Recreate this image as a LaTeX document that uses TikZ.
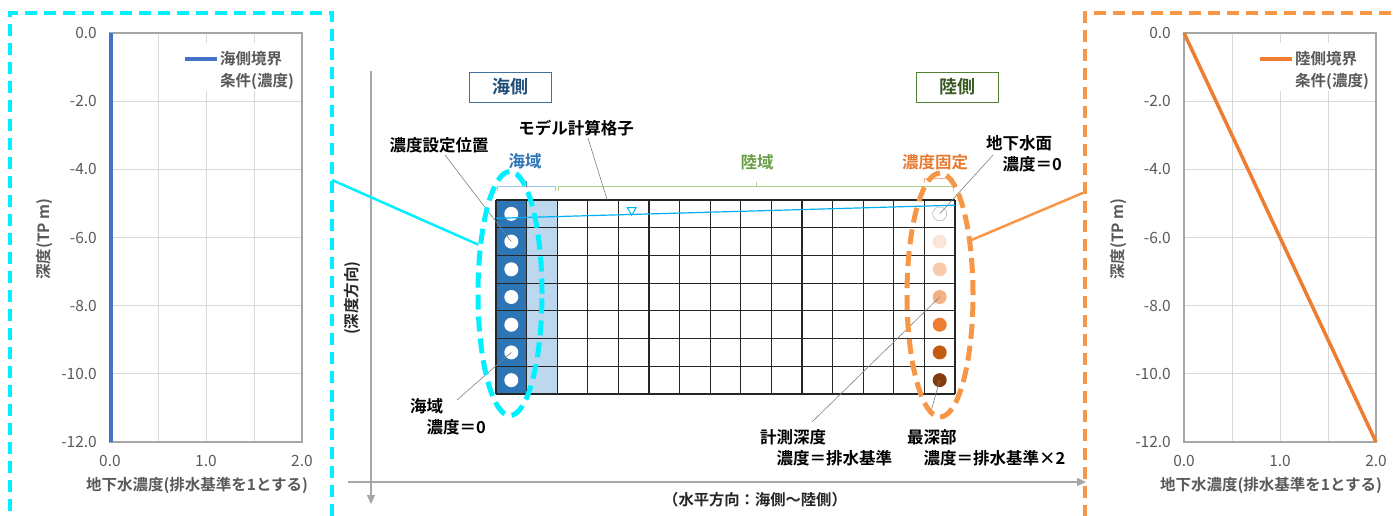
\documentclass[tikz,border=0pt]{standalone}
\usepackage{fontspec}
\setmainfont{Noto Sans CJK JP}[BoldFont={Noto Sans CJK JP Bold}]
\usetikzlibrary{arrows.meta,shapes.geometric}
\definecolor{axg}{HTML}{595959}
\definecolor{frc}{HTML}{A6A6A6}
\definecolor{grc}{HTML}{D9D9D9}
\definecolor{seab}{HTML}{2E75B6}
\definecolor{seal}{HTML}{BDD7EE}
\definecolor{brb}{HTML}{9DC3E6}
\definecolor{brg}{HTML}{A9D18E}
\definecolor{txg}{HTML}{6A9F45}
\definecolor{txo}{HTML}{E87A30}
\definecolor{dsho}{HTML}{F79646}
\definecolor{dshc}{HTML}{00F0FF}
\definecolor{wtr}{HTML}{00B0F0}
\definecolor{ldg}{HTML}{808080}
\definecolor{lbox}{HTML}{548235}
\definecolor{ltxt}{HTML}{3A5A24}
\definecolor{sbox}{HTML}{41719C}
\definecolor{stxt}{HTML}{1F4E79}
\definecolor{serb}{HTML}{4472C4}
\definecolor{sero}{HTML}{ED7D31}
\definecolor{oA}{HTML}{FBE5D6}
\definecolor{oB}{HTML}{F8CBAD}
\definecolor{oC}{HTML}{F4B183}
\definecolor{oD}{HTML}{ED7D31}
\definecolor{oE}{HTML}{C55A11}
\definecolor{oF}{HTML}{843C0C}
\newcommand\mychartframe{%
  \foreach \gx in {158,206,254} \draw[gridline] (\gx,33) -- (\gx,442);
  \foreach \gy in {101.17,169.33,237.5,305.67,373.83} \draw[gridline] (110,\gy) -- (302,\gy);
  \fill[white] (181,43) rectangle (300,91);
  \draw[frameline] (110,33) rectangle (302,442);
  \foreach \v [count=\i from 0] in {0.0,-2.0,-4.0,-6.0,-8.0,-10.0,-12.0}
    \node[ctext, anchor=east] (yt\i) at (97,{33+68.1667*\i}) {\v};
  \foreach \v [count=\i from 0] in {0.0,1.0,2.0}
    \node[ctext] (xt\i) at ({110+96*\i},461) {\v};
  \node[ctextb] (xtitle) at (197,485) {地下水濃度(排水基準を1とする)};
  \node[ctextb, rotate=90] (ytitle) at (44,239) {深度(TP m)};
}
\begin{document}
\begin{tikzpicture}[x=1pt,y=-1pt,
  gridline/.style={draw=grc, line width=1pt},
  frameline/.style={draw=frc, line width=1.2pt},
  ctext/.style={font=\fontsize{15.5}{20}\selectfont, text=axg, inner sep=0pt},
  ctextb/.style={font=\bfseries\fontsize{15.5}{20}\selectfont, text=axg, inner sep=0pt},
  lab/.style={font=\bfseries\fontsize{16.5}{21}\selectfont, inner sep=0pt, align=left, text=black},
  leader/.style={draw=ldg, line width=0.6pt},
  cell/.style={draw=black!85, line width=1.1pt},
  dot/.style={circle, minimum size=14pt, inner sep=0pt, draw=none},
  sidebox/.style={minimum width=82pt, minimum height=30pt, line width=1pt, inner sep=0pt, font=\bfseries\fontsize{18}{20}\selectfont},
  axisline/.style={draw=frc, line width=1.6pt, -{Triangle[width=8pt,length=9pt]}},
  cydash/.style={draw=dshc, line width=3.5pt, dash pattern=on 12pt off 7pt},
  ordash/.style={draw=dsho, line width=3.5pt, dash pattern=on 12pt off 7pt},
  ringc/.style={ellipse, draw=dshc, line width=5pt, dash pattern=on 15pt off 7pt, inner sep=0pt},
  ringo/.style={ellipse, draw=dsho, line width=5pt, dash pattern=on 15pt off 7pt, inner sep=0pt}
]
\useasboundingbox (0,0) rectangle (1398,515);
\clip (0,0) rectangle (1398,515);

% ---------- left chart ----------
\begin{scope}[name prefix=L-]
  \mychartframe
  \draw[draw=serb, line width=3.5pt] (111,33) -- (111,442);
  \coordinate (lg1) at (185,59); \coordinate (lg2) at (217,59);
  \draw[draw=serb, line width=4pt] (lg1) -- (lg2);
  \node[ctextb, anchor=west] (lgt1) at (220,59) {海側境界};
  \node[ctextb, anchor=west] (lgt2) at (220,81) {条件(濃度)};
\end{scope}
\draw[cydash] (10,530) -- (10,13) -- (332,13) -- (332,530);

% ---------- right chart ----------
\begin{scope}[xshift=1074pt, name prefix=R-]
  \mychartframe
  \coordinate (o0) at (110,33); \coordinate (o1) at (302,442);
  \draw[draw=sero, line width=3.5pt] (o0) -- (o1);
  \coordinate (lg1) at (186,59); \coordinate (lg2) at (218,59);
  \draw[draw=sero, line width=4pt] (lg1) -- (lg2);
  \node[ctextb, anchor=west] (lgt1) at (221,59) {陸側境界};
  \node[ctextb, anchor=west] (lgt2) at (221,81) {条件(濃度)};
\end{scope}
\draw[ordash] (1410,13) -- (1085,13) -- (1085,530);

% ---------- centre axes ----------
\coordinate (vaT) at (371,71); \coordinate (vaB) at (371,504);
\coordinate (haL) at (348,482); \coordinate (haR) at (1086,482);
\draw[axisline] (vaT) -- (vaB);
\draw[axisline] (haL) -- (haR);
\node[font=\bfseries\fontsize{15.5}{20}\selectfont, text=black!85, inner sep=0pt, rotate=90] (vlab) at (352,298) {(深度方向)};
\node[font=\bfseries\fontsize{15.3}{20}\selectfont, text=black!85, inner sep=0pt] (hlab) at (755,500) {（水平方向：海側～陸側）};

% ---------- side boxes ----------
\node[sidebox, draw=sbox, text=stxt] (seaside) at (510,87) {海側};
\node[sidebox, draw=lbox, text=ltxt] (landside) at (957.5,87) {陸側};

% ---------- grid ----------
\fill[seab] (496,200) rectangle (526.6,394);
\fill[seal] (526.6,200) rectangle (557.2,394);
\foreach \i in {0,...,15} \draw[cell] ({496+30.6*\i},200) -- ({496+30.6*\i},394);
\foreach \j in {0,...,7} \draw[cell] (496,{200+27.714*\j}) -- (955,{200+27.714*\j});

\foreach \j in {1,...,7}
  \node[dot, fill=white] (s\j) at (511.3,{200+27.714*(\j-0.5)}) {};
\foreach \c [count=\j] in {white,oA,oB,oC,oD,oE,oF}
  \node[dot, fill=\c] (l\j) at (939.7,{200+27.714*(\j-0.5)}) {};
\draw[draw=black!25, line width=0.7pt] (l1.center) circle [radius=7];

% water table
\coordinate (wL) at (496,218.3); \coordinate (wR) at (955,205.2);
\draw[draw=wtr, line width=1.2pt] (wL) -- (wR);
\draw[draw=wtr, line width=1pt] (627.3,207.6) -- (636.1,207.6) -- (631.7,215.2) -- cycle;

% brackets
\draw[draw=brb, line width=1pt] (497,191) -- (497,186.5) -- (555,186.5) -- (555,191);
\draw[draw=black!60, line width=0.8pt] (526,186.5) -- (526,181);
\draw[draw=brg, line width=1pt] (558,191) -- (558,186.5) -- (953,186.5) -- (953,191);
\draw[draw=brg, line width=1pt] (756,186.5) -- (756,181.5);
\draw[draw=oC, line width=1pt] (924,182.5) -- (924,178) -- (953,178) -- (953,182.5);

% labels
\node[lab, text=seab] (tsea) at (525,161) {海域};
\node[lab, text=txg] (tland) at (757,162) {陸域};
\node[lab, text=txo] (tfix) at (935,162) {濃度固定};
\node[lab] (tgrid) at (576,128) {モデル計算格子};
\node[lab] (tset) at (439,145) {濃度設定位置};
\node[lab, anchor=west] (twt) at (986,153.5) {地下水面\\\hspace*{1em}濃度＝0};
\node[lab, anchor=west] (tsea0) at (410,417) {海域\\\hspace*{1em}濃度＝0};
\node[lab, anchor=west] (tmeas) at (760,448) {計測深度\\\hspace*{1em}濃度＝排水基準};
\node[lab, anchor=west] (tdeep) at (907,448) {最深部\\\hspace*{1em}濃度＝排水基準×2};

% leaders
\coordinate (ldgrid) at (588,138); \coordinate (ldgridE) at (607,199.5);
\coordinate (ldset) at (445,155);
\coordinate (ldwt) at (993,155);
\coordinate (ldsea) at (457,400);
\coordinate (ldmeas) at (812,422);
\coordinate (lddeep) at (930,415);
\draw[leader] (ldgrid) -- (ldgridE);
\draw[leader] (ldset) -- (s2.center);
\draw[leader] (ldwt) -- (l1.center);
\draw[leader] (ldsea) -- (s6.center);
\draw[leader] (ldmeas) -- (l4.center);
\draw[leader] (lddeep) -- (l7.center);

% rings and connectors
\node[ringc, minimum width=64pt, minimum height=244pt] (ringC) at (510,293.5) {};
\node[ringo, minimum width=66pt, minimum height=244pt] (ringO) at (940,295) {};
\coordinate (cbE) at (332,180); \coordinate (obW) at (1085,192);
\draw[draw=dshc, line width=2.5pt] (cbE) -- (ringC.123);
\draw[draw=dsho, line width=2.5pt] (ringO.60) -- (obW);
\end{tikzpicture}
\end{document}
